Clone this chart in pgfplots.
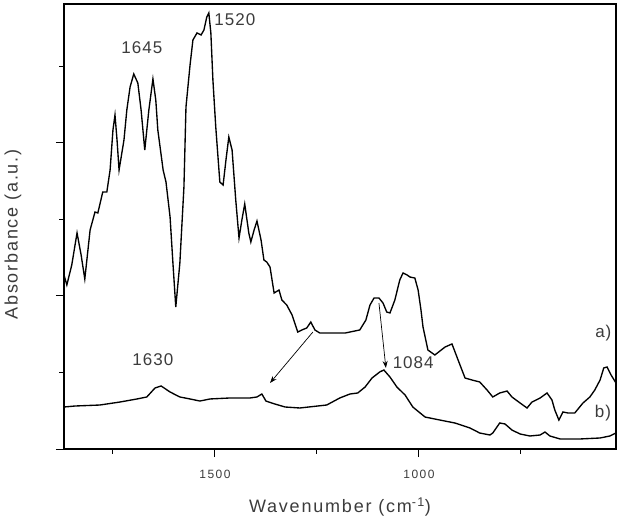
\documentclass[border=0pt]{standalone}
\usepackage{pgfplots}
\pgfplotsset{compat=1.18}
\usepackage{fontspec}
\setmainfont{Liberation Sans}
\newfontfamily\lblfont[LetterSpace=10]{Liberation Sans}
\newfontfamily\annfont[LetterSpace=6]{Liberation Sans}
\newfontfamily\tickfont[LetterSpace=12]{Liberation Sans}
\usetikzlibrary{arrows.meta}
\definecolor{txt}{RGB}{60,60,60}
\begin{document}
\begin{tikzpicture}
\useasboundingbox (-64pt,-74pt) rectangle (558pt,449pt);
\begin{axis}[
  scale only axis, width=552pt, height=445pt,
  x dir=reverse, xmin=517, xmax=1870, ymin=0, ymax=5.817,
  axis line style={line width=1.2pt},
  xtick={1000,1500}, xticklabels={1000,1500},
  minor xtick={750,1250,1750},
  ytick={0,2,4}, yticklabels={}, minor ytick={1,3,5},
  xtick pos=bottom, ytick pos=left, tick align=outside,
  major tick length=8pt, minor tick length=4.5pt,
  every tick/.style={black, line width=1pt},
  tick label style={font=\tickfont\fontsize{12}{14}\selectfont, text=txt},
  xticklabel style={anchor=base, yshift=-21pt},
  xlabel={\lblfont\fontsize{18}{20}\selectfont Wavenumber (cm\textsuperscript{-1})},
  ylabel={\lblfont\fontsize{18}{20}\selectfont Absorbance (a.u.)},
  xlabel style={at={(axis description cs:0.5,-0.1438)}, anchor=base, text=txt},
  ylabel style={at={(axis description cs:-0.0924,0.482)}, anchor=center, text=txt},
  clip=true,
]
% curve a)
\addplot[black, line width=1.35pt, no marks] coordinates {
(1870,2.275)(1863,2.144)(1851,2.405)(1838,2.824)(1828,2.536)(1819,2.222)
(1806,2.863)(1794,3.098)(1787,3.085)(1775,3.359)(1765,3.359)(1757,3.647)
(1750,4.170)(1745,4.366)(1740,4.039)(1735,3.647)(1723,4.039)(1716,4.431)
(1708,4.732)(1699,4.902)(1689,4.784)(1681,4.431)(1672,3.908)(1662,4.431)
(1652,4.837)(1645,4.562)(1640,4.170)(1627,3.647)(1620,3.490)(1610,3.033)
(1603,2.431)(1596,1.856)(1586,2.431)(1576,3.425)(1571,4.471)(1561,5.020)
(1554,5.346)(1544,5.438)(1534,5.412)(1527,5.477)(1520,5.647)(1515,5.699)
(1510,5.438)(1505,4.824)(1498,4.209)(1488,3.490)(1480,3.451)(1473,3.778)
(1466,4.078)(1458,3.908)(1449,3.255)(1441,2.758)(1434,2.993)(1427,3.203)
(1417,2.824)(1412,2.706)(1404,2.863)(1397,2.980)(1387,2.732)(1380,2.471)
(1373,2.444)(1365,2.379)(1355,2.039)(1343,2.078)(1336,1.948)(1324,1.882)
(1311,1.752)(1297,1.529)(1287,1.556)(1275,1.582)(1265,1.660)(1255,1.556)
(1243,1.516)(1218,1.516)(1181,1.516)(1145,1.556)(1130,1.686)(1120,1.882)
(1110,1.974)(1098,1.974)(1088,1.908)(1079,1.791)(1071,1.778)(1059,1.948)
(1047,2.209)(1039,2.301)(1029,2.275)(1022,2.248)(1010,2.235)(1002,2.078)
(995,1.817)(990,1.595)(978,1.294)(961,1.229)(936,1.333)(919,1.373)
(904,1.163)(887,0.928)(870,0.902)(851,0.876)(833,0.771)(819,0.680)
(802,0.732)(784,0.758)(772,0.680)(752,0.601)(735,0.536)(723,0.614)
(703,0.667)(686,0.732)(674,0.641)(667,0.510)(657,0.379)(647,0.484)
(635,0.471)(618,0.471)(598,0.601)(581,0.680)(569,0.771)(556,0.902)
(547,1.059)(539,1.072)(529,0.967)(517,0.863)
};
% curve b)
\addplot[black, line width=1.35pt, no marks] coordinates {
(1870,0.549)(1843,0.562)(1782,0.575)(1733,0.614)(1691,0.654)(1667,0.680)
(1647,0.797)(1632,0.824)(1610,0.745)(1586,0.680)(1561,0.654)(1537,0.627)
(1512,0.654)(1463,0.667)(1414,0.667)(1397,0.680)(1385,0.719)(1375,0.627)
(1353,0.588)(1328,0.549)(1292,0.536)(1226,0.575)(1194,0.667)(1169,0.719)
(1150,0.732)(1132,0.810)(1115,0.928)(1096,1.007)(1086,1.033)(1071,0.941)
(1054,0.810)(1034,0.706)(1015,0.549)(985,0.418)(949,0.379)(912,0.340)
(875,0.275)(851,0.209)(826,0.183)(819,0.209)(802,0.340)(789,0.327)
(772,0.248)(752,0.196)(728,0.170)(703,0.183)(691,0.222)(679,0.170)
(654,0.131)(605,0.131)(556,0.144)(532,0.170)(517,0.209)
};
% annotations
\node[text=txt, font=\annfont\fontsize{17}{19}\selectfont] at (axis cs:1679,5.24) {1645};
\node[text=txt, font=\annfont\fontsize{17}{19}\selectfont] at (axis cs:1451,5.608) {1520};
\node[text=txt, font=\annfont\fontsize{17}{19}\selectfont] at (axis cs:1652,1.163) {1630};
\node[text=txt, font=\annfont\fontsize{17}{19}\selectfont] at (axis cs:1014,1.131) {1084};
\node[text=txt, font=\annfont\fontsize{17}{19}\selectfont] at (axis cs:548,1.51) {a)};
\node[text=txt, font=\annfont\fontsize{17}{19}\selectfont] at (axis cs:549,0.471) {b)};
\draw[-{Stealth[length=7pt,width=5pt]}, line width=0.7pt] (axis cs:1260,1.529) -- (axis cs:1365,0.863);
\draw[-{Stealth[length=7pt,width=5pt]}, line width=0.7pt] (axis cs:1098,1.908) -- (axis cs:1081,1.059);
\end{axis}
\end{tikzpicture}
\end{document}
